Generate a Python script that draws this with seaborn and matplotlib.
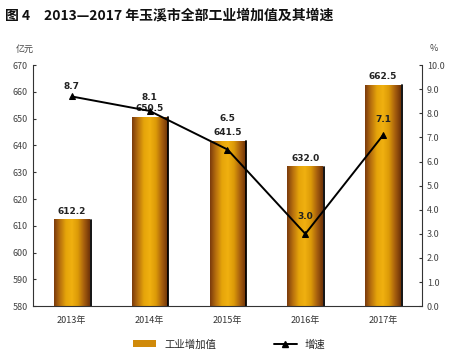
import matplotlib
matplotlib.use("Agg")
import matplotlib.pyplot as plt
import matplotlib.patches as mpatches
from matplotlib.lines import Line2D
from matplotlib.colors import LinearSegmentedColormap
import numpy as np
import pandas as pd
import seaborn as sns

# data
years = ["2013年", "2014年", "2015年", "2016年", "2017年"]
value_added = [612.2, 650.5, 641.5, 632.0, 662.5]
growth = [8.7, 8.1, 6.5, 3.0, 7.1]

sns.set_style("white")
plt.rcParams['font.family'] = ['Noto Sans CJK SC', 'DejaVu Sans']

df = pd.DataFrame({"year": years, "value": value_added, "growth": growth})

fig = plt.figure(figsize=(4.5, 3.56), dpi=100)
ax = fig.add_axes([0.073, 0.140, 0.865, 0.677])

sns.barplot(data=df, x="year", y="value", ax=ax, width=0.46, color="#E0A000",
            saturation=1, edgecolor="none")
ymin, ymax = 580, 670

# gradient fill for bars
cmap = LinearSegmentedColormap.from_list(
    "gold", ["#7a3a0c", "#b8700e", "#e6a50a", "#f0b010", "#dc9a08", "#a8600e", "#6e3208"])
grad = np.linspace(0, 1, 256).reshape(1, -1)
for p in ax.patches:
    x0 = p.get_x()
    w, h = p.get_width(), p.get_height()
    im = ax.imshow(grad, cmap=cmap, aspect="auto", extent=[x0, x0 + w, ymin, h],
                   zorder=2)
    p.set_visible(False)
    ax.plot([x0 + w + 0.012, x0 + w + 0.012], [ymin, h], color="black", lw=1.3, zorder=2)
    ax.text(x0 + w / 2, h + 1.6, f"{h:.1f}", ha="center", va="bottom",
            fontsize=6.5, fontweight="bold", color="#222222", family="DejaVu Sans")
ax.set_xlim(-0.5, 4.5)
ax.set_ylim(ymin, ymax)
ax.set_yticks(np.arange(580, 671, 10))
ax.set_xlabel("")
ax.set_ylabel("")

ax2 = ax.twinx()
sns.lineplot(x=np.arange(len(years)), y=growth, ax=ax2, color="black", lw=1.4,
             marker="^", markersize=5, markeredgecolor="black")
ax2.set_ylim(0, 10)
ax2.set_yticks(np.arange(0, 10.1, 1))
ax2.set_yticklabels([f"{v:.1f}" for v in np.arange(0, 10.1, 1)])
ax2.set_xlim(-0.5, 4.5)
label_y = [9.1, 8.67, 7.8, 3.7, 7.76]
for i, g in enumerate(growth):
    ax2.text(i, label_y[i], f"{g:.1f}", ha="center", va="center", fontsize=6.5,
             fontweight="bold", color="#222222", family="DejaVu Sans")

for a in (ax, ax2):
    a.spines["top"].set_visible(False)
    a.tick_params(direction="in", length=2.5, width=0.8, labelsize=6.5,
                  labelcolor="#444444", color="#333333")
ax.spines["left"].set_color("#333333")
ax2.spines["right"].set_color("#333333")
ax.spines["bottom"].set_color("#333333")
ax.spines["right"].set_visible(False)
ax2.spines["left"].set_visible(False)
ax2.spines["bottom"].set_visible(False)

# year labels at category centres, small ticks at category boundaries
ax.set_xticks(np.arange(5))
ax.set_xticklabels(years)
ax.tick_params(axis="x", length=0, labelsize=6.5, labelcolor="#333333", pad=7)
ax.set_xticks(np.arange(-0.5, 4.6, 1), minor=True)
ax.tick_params(axis="x", which="minor", direction="in", length=3, width=0.8, color="#333333")

fig.text(0.012, 0.957, "图 4　2013—2017 年玉溪市全部工业增加值及其增速", fontsize=10,
         fontweight="bold", color="#111111", va="center")
fig.text(0.036, 0.853, "亿元", fontsize=6.5, color="#444444")
fig.text(0.955, 0.857, "%", fontsize=6.5, color="#444444")

handles = [mpatches.Patch(facecolor="#d08a0a", edgecolor="none"),
           Line2D([0], [0], color="black", lw=1.4, marker="^", markersize=5)]
fig.legend(handles, ["工业增加值", "增速"], loc="center", bbox_to_anchor=(0.51, 0.033),
           ncol=2, frameon=False, fontsize=7.5, handlelength=2.2, handleheight=0.6,
           columnspacing=5.5)

fig.savefig("out.png", dpi=100)
